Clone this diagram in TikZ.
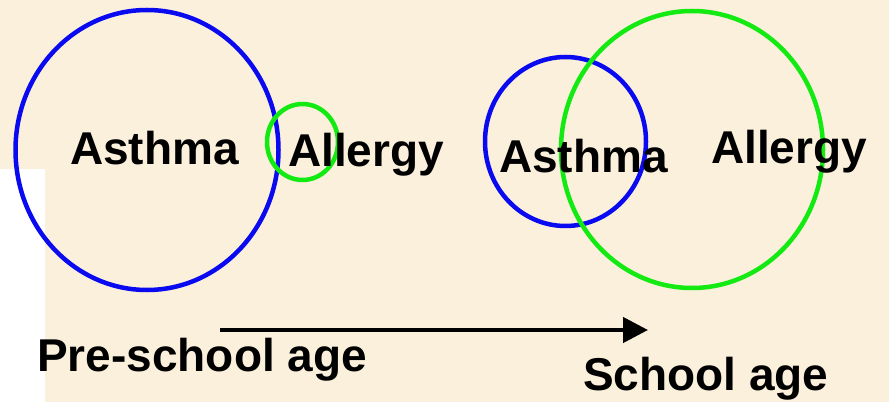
\documentclass[tikz,border=0pt]{standalone}
\usepackage{fontspec}
\setmainfont{Liberation Sans}
\usetikzlibrary{shapes.geometric, arrows.meta}
\definecolor{paper-bg}{HTML}{FBF0DC}
\definecolor{ring-blue}{HTML}{0A0AF0}
\definecolor{ring-green}{HTML}{12EA12}

\begin{document}
\begin{tikzpicture}[x=1pt, y=1pt,
      ring/.style={ellipse, line width=4.5pt, inner sep=0pt},
      word/.style={anchor=base west, inner sep=0pt,
                   font=\fontsize{46}{55}\selectfont\bfseries}]
    % page and the white strip at the left
    \fill[paper-bg] (0,0) rectangle (889,402);
    \fill[white] (0,0) rectangle (45,233);
    \useasboundingbox (0,0) rectangle (889,402);

    % pre-school age
    \node[ring, draw=ring-blue, minimum width=263pt, minimum height=280pt] (asthmaPreRing) at (147,252) {};
    \node[ring, draw=ring-green, minimum width=71pt, minimum height=76pt] (allergyPreRing) at (302.5,260) {};
    \node[word] (asthmaPre) at (70,237) {Asthma};
    \node[word] (allergyPre) at (288,235) {Allergy};

    % school age
    \node[ring, draw=ring-blue, minimum width=161pt, minimum height=169pt] (asthmaSchRing) at (565.5,260.5) {};
    \node[ring, draw=ring-green, minimum width=262pt, minimum height=277pt] (allergySchRing) at (692,252.5) {};
    \node[word] (asthmaSch) at (499,229) {Asthma};
    \node[word] (allergySch) at (711,238) {Allergy};

    % time axis
    \coordinate (from) at (220,72);
    \coordinate (to) at (648,72);
    \draw[line width=4.5pt, -{Triangle[length=25pt, width=25pt]}] (from) -- (to);
    \node[word] (preLbl) at (37,31) {Pre-school age};
    \node[word] (schLbl) at (583,12) {School age};
\end{tikzpicture}
\end{document}
